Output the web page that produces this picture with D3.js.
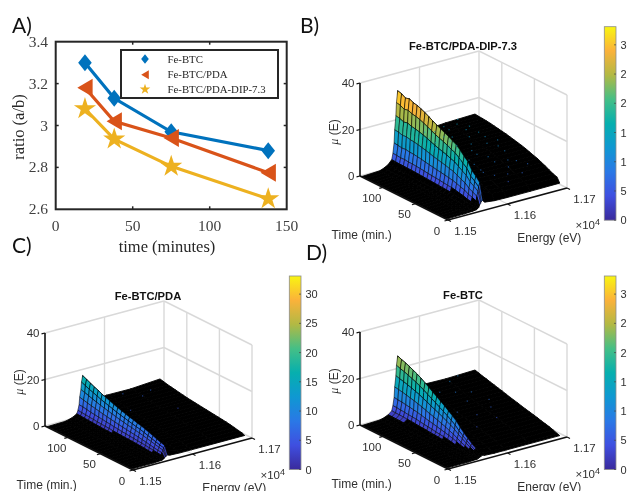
<!DOCTYPE html>
<html>
<head>
<meta charset="utf-8">
<script src="https://cdn.jsdelivr.net/npm/d3@7"></script>
<style>
    html, body { margin: 0; padding: 0; background: #fff; }
    svg { display: block; filter: blur(0.35px); }
</style>
</head>
<body>
<svg id="chart" width="627" height="491"></svg>
<script>
// Panel A values
const ratioTimes = [19, 38, 75, 138];
const ratioFeBtc = [3.30, 3.13, 2.97, 2.88];
const ratioPda = [3.18, 3.02, 2.94, 2.775];
const ratioDip = [3.08, 2.935, 2.805, 2.65];
const ratioNames = ['Fe-BTC', 'Fe-BTC/PDA', 'Fe-BTC/PDA-DIP-7.3'];
const ratioXTicks = [0, 50, 100, 150];
const ratioYTicks = [2.6, 2.8, 3, 3.2, 3.4];

// Surface grid, shared by panels B, C, D
const surfaceTimes = [2, 6, 12, 18, 24, 30, 36, 42, 48, 54, 60, 66, 72, 78, 84, 90, 96, 102, 108, 114, 120, 126, 132];
const surfaceEnergies = [1.15, 1.153, 1.1537, 1.1544, 1.155, 1.1552, 1.1554, 1.1555, 1.1557, 1.1558, 1.156, 1.1564, 1.158, 1.16, 1.164, 1.169];
const peakColumn = 10;

// mu(E), one row per time
const muDip = [
    [.1,.3,.4,.5,.7,1,1.5,2.2,2.9,3.5,4,3,2.5,2.4,2.4,2.5],
    [.2,.4,.6,.9,1.4,2.2,3.6,5.5,7.5,9.4,11,7,5,4.8,4.6,4.5],
    [.2,.4,.6,1,1.6,2.6,4.3,6.5,8.8,11,13,8,5.6,5.3,5.2,5.1],
    [.2,.4,.7,1.1,1.8,2.9,4.8,7.3,9.9,12.3,14.5,8.5,6.3,6,6,5.9],
    [.2,.5,.8,1.3,2.1,3.5,5.8,8.8,11.9,14.9,17.5,10,7.5,7,6.9,6.8],
    [.2,.5,.8,1.4,2.3,3.8,6.3,9.5,12.9,16.2,19,11,8,7.8,7.6,7.5],
    [.2,.5,.9,1.5,2.5,4.2,6.9,10.4,14.1,17.7,20.8,12,9,8.6,8.4,8.3],
    [.2,.5,.9,1.6,2.7,4.5,7.4,11.2,15.2,19,22.3,13,9.6,9.1,8.9,8.8],
    [.2,.5,1,1.6,2.8,4.6,7.7,11.6,15.8,19.7,23.2,13.5,10,9.7,9.5,9.4],
    [.2,.5,1,1.7,2.9,4.8,8,12.1,16.5,20.6,24.2,14,10.6,10.2,10.1,10],
    [.2,.5,1,1.8,3,5,8.3,12.5,17,21.3,25,14.8,11,10.7,10.6,10.5],
    [.2,.6,1,1.8,3.1,5.2,8.5,12.9,17.5,21.9,25.8,15,11.4,11,11,10.9],
    [.2,.6,1.1,1.9,3.2,5.3,8.8,13.3,18.1,22.6,26.6,15.8,11.8,11.4,11.4,11.3],
    [.2,.6,1.1,1.9,3.3,5.5,9.1,13.8,18.7,23.4,27.5,16.4,12,11.8,11.8,11.7],
    [.2,.6,1.1,2,3.4,5.7,9.4,14.3,19.4,24.2,28.5,17,12.4,12.2,12.2,12.1],
    [.2,.6,1.2,2.1,3.5,5.9,9.7,14.7,20,25,29.4,17.5,12.7,12.5,12.5,12.4],
    [.2,.6,1.2,2.1,3.6,6,10,15.1,20.5,25.7,30.2,18,13,12.7,12.8,12.7],
    [.2,.6,1.2,2.2,3.7,6.2,10.2,15.4,20.9,26.2,30.8,18.3,13.2,13,13.1,13],
    [.2,.6,1.2,2.2,3.7,6.2,10.3,15.6,21.2,26.5,31.2,18.6,13.3,13.2,13.3,13.3],
    [.2,.6,1.3,2.2,3.8,6.4,10.6,16,21.8,27.2,32,19,13.5,13.4,13.5,13.5],
    [.2,.6,1.3,2.2,3.8,6.3,10.4,15.8,21.4,26.8,31.5,19,13.6,13.5,13.7,13.7],
    [.2,.6,1.3,2.3,3.9,6.5,10.7,16.3,22.1,27.6,32.5,19.2,13.6,13.6,13.8,13.8],
    [.2,.6,1.3,2.3,4,6.6,10.9,16.5,22.4,28,33,19.5,13,12.8,13.6,14]
];
const muPda = [
    [.1,.2,.2,.3,.4,.5,.8,1.1,1.4,1.7,2,1.7,1.5,1.5,1.5,1.5],
    [.1,.2,.3,.4,.7,1.1,1.8,2.8,3.7,4.7,5.5,3.2,2.2,2,2,2],
    [.1,.2,.3,.5,.8,1.2,2,3,4.1,5.1,6,3.5,2.5,2.3,2.3,2.3],
    [.1,.2,.3,.5,.8,1.3,2.2,3.3,4.5,5.6,6.6,3.9,2.9,2.7,2.7,2.7],
    [.1,.2,.3,.5,.9,1.4,2.4,3.6,4.9,6.1,7.2,4.2,3.2,3,3,3],
    [.1,.2,.3,.6,.9,1.6,2.6,3.9,5.3,6.6,7.8,4.6,3.5,3.3,3.3,3.3],
    [.1,.2,.3,.6,1,1.7,2.8,4.2,5.7,7.1,8.4,5,3.7,3.5,3.5,3.5],
    [.1,.2,.4,.6,1.1,1.8,2.9,4.5,6.1,7.6,8.9,5.3,3.9,3.7,3.7,3.7],
    [.1,.2,.4,.7,1.1,1.9,3.1,4.7,6.3,7.9,9.3,5.6,4.1,3.9,3.9,3.9],
    [.1,.3,.4,.7,1.2,2,3.2,4.9,6.7,8.3,9.8,5.9,4.3,4.1,4.1,4.1],
    [.1,.3,.4,.7,1.2,2,3.4,5.1,6.9,8.7,10.2,6.2,4.5,4.3,4.3,4.3],
    [.1,.3,.4,.7,1.3,2.1,3.5,5.4,7.3,9.1,10.7,6.4,4.7,4.5,4.5,4.5],
    [.1,.3,.4,.8,1.3,2.2,3.7,5.6,7.6,9.5,11.2,6.7,5,4.7,4.7,4.7],
    [.1,.3,.5,.8,1.4,2.3,3.9,5.9,8,9.9,11.7,7,5.2,4.9,4.9,4.9],
    [.1,.3,.5,.9,1.5,2.5,4.1,6.2,8.4,10.5,12.3,7.3,5.4,5.1,5.1,5.1],
    [.1,.3,.5,.9,1.5,2.6,4.3,6.5,8.8,11,12.9,7.6,5.6,5.3,5.3,5.3],
    [.1,.3,.5,.9,1.6,2.7,4.5,6.8,9.2,11.5,13.5,8,5.9,5.6,5.6,5.6],
    [.1,.3,.6,1,1.7,2.8,4.7,7.1,9.6,12,14.1,8.3,6.2,5.9,5.9,5.9],
    [.1,.3,.6,1,1.8,3,4.9,7.5,10.1,12.7,14.9,8.7,6.5,6.2,6.2,6.2],
    [.1,.3,.6,1.1,1.9,3.1,5.1,7.8,10.6,13.3,15.6,9,6.8,6.5,6.5,6.5],
    [.1,.3,.7,1.1,2,3.3,5.4,8.2,11.2,13.9,16.4,9.4,7,6.8,6.8,6.8],
    [.1,.3,.7,1.2,2.1,3.4,5.7,8.6,11.7,14.6,17.2,9.8,7.3,7.2,7.1,7.2],
    [.1,.3,.7,1.3,2.2,3.6,5.9,9,12.2,15.3,18,10,6,6.8,6.7,7.6]
];
const muBtc = [
    [.1,.2,.2,.3,.4,.5,.7,.9,1.1,1.3,1.5,1.2,1,1,1,1],
    [.1,.2,.3,.4,.5,.6,.8,1.1,1.4,1.7,2,1.6,1.4,1.4,1.4,1.4],
    [.1,.2,.3,.4,.5,.7,1.1,1.5,2.1,2.6,3,2.4,2.1,2,2,2],
    [.1,.2,.3,.4,.6,.9,1.4,2.1,2.9,3.6,4.2,3.2,2.7,2.6,2.6,2.6],
    [.1,.2,.3,.5,.7,1.1,1.9,2.8,3.8,4.8,5.6,3.8,3.2,3.1,3,3],
    [.1,.3,.4,.5,.8,1.4,2.3,3.5,4.8,6,7,4.5,3.6,3.5,3.4,3.4],
    [.1,.3,.4,.6,1,1.7,2.9,4.4,5.9,7.4,8.7,5.4,4.1,4,3.9,3.9],
    [.2,.3,.4,.7,1.3,2.1,3.5,5.3,7.2,9,10.6,6.2,4.6,4.4,4.3,4.3],
    [.2,.3,.5,.8,1.4,2.4,4,6,8.2,10.2,12,7,5,4.8,4.7,4.7],
    [.2,.3,.5,.9,1.6,2.7,4.4,6.7,9,11.3,13.3,7.6,5.4,5.2,5.1,5.1],
    [.2,.4,.6,1,1.8,2.9,4.8,7.3,9.9,12.4,14.6,8.2,5.8,5.6,5.5,5.5],
    [.2,.4,.6,1.1,1.9,3.1,5.2,7.9,10.7,13.3,15.7,8.9,6.3,6.1,6,6],
    [.2,.4,.7,1.2,2,3.4,5.6,8.5,11.5,14.4,16.9,9.5,6.7,6.5,6.4,6.4],
    [.2,.4,.7,1.3,2.2,3.6,5.9,9,12.2,15.3,18,10.2,7.1,6.9,6.8,6.8],
    [.2,.4,.8,1.3,2.3,3.8,6.3,9.6,13.1,16.3,19.2,11,7.6,7.4,7.3,7.3],
    [.2,.5,.8,1.4,2.4,4.1,6.7,10.2,13.8,17.3,20.3,11.6,8.1,7.9,7.8,7.8],
    [.2,.5,.9,1.5,2.6,4.3,7.1,10.7,14.6,18.2,21.4,12.2,8.5,8.3,8.2,8.2],
    [.2,.5,.9,1.6,2.7,4.5,7.4,11.2,15.2,19,22.4,12.9,9,8.8,8.7,8.7],
    [.2,.5,.9,1.6,2.8,4.6,7.7,11.6,15.8,19.7,23.2,13.4,9.4,9.2,9.1,9.1],
    [.2,.5,1,1.7,2.9,4.8,7.9,12,16.3,20.4,24,14,9.9,9.7,9.6,9.6],
    [.2,.5,1,1.7,3,4.9,8.2,12.4,16.8,21,24.7,14.4,10.3,10.1,10,10],
    [.2,.5,1,1.8,3,5.1,8.3,12.7,17.2,21.5,25.3,15,10.8,10.6,10.5,10.5],
    [.2,.5,1,1.8,3.1,5.2,8.6,13,17.7,22.1,26,15.5,11.3,10.8,10.6,11]
];

// Bright pixels seen on the black plateau: time, energy, mu
const specksDip = [[120,1.158,13.6],[108,1.161,13.3],[96,1.164,13],[126,1.163,13.8],[90,1.16,12.5],[84,1.163,12.2],[72,1.159,11.5],[78,1.165,12],[66,1.162,11],[60,1.16,10.7],[60,1.166,10.6],[54,1.158,10.4],[48,1.163,9.6],[42,1.16,9],[42,1.166,8.9],[36,1.164,8.4],[30,1.161,7.7],[24,1.165,6.9],[114,1.166,13.6],[102,1.159,13.1],[130,1.161,13.6],[132,1.166,14],[18,1.162,6],[90,1.166,12.5],[128,1.16,13.2],[124,1.165,13.8],[122,1.161,13.6],[118,1.163,13.6],[112,1.159,13.4],[110,1.165,13.4],[104,1.162,13.1],[100,1.166,13],[98,1.161,12.8],[94,1.158,12.6],[88,1.161,12.4],[82,1.16,12],[80,1.167,11.8],[74,1.162,11.5],[70,1.166,11.3],[64,1.159,10.9],[58,1.163,10.4],[52,1.16,10],[46,1.165,9.3],[38,1.16,8.5],[34,1.167,8],[28,1.163,7.2]];
const specksPda = [[126,1.162,7.1],[114,1.164,6.5],[96,1.16,5.6],[78,1.166,4.9],[120,1.166,6.8]];
const specksBtc = [[126,1.164,10.6],[114,1.161,9.7],[102,1.165,8.8],[96,1.159,8.3],[90,1.163,7.9],[78,1.16,6.9],[72,1.165,6.5],[66,1.162,6.1],[54,1.164,5.2],[48,1.16,4.8],[120,1.159,10.1],[108,1.163,9.2],[132,1.166,10.8],[84,1.166,7.4]];

const colorTicks = [0, 5, 10, 15, 20, 25, 30];
const muTicks = [0, 20, 40];
const timeTicks = [0, 50, 100];
const energyTicks = [1.15, 1.16, 1.17];
const parulaStops = ['#3A2A9C', '#3F4FE0', '#2A78E6', '#0F98D2', '#06AFAE', '#45BF86', '#B2B944', '#FBB23A', '#F9F511'];

const svg = d3.select('#chart');
const sans = '"Liberation Sans", Arial, sans-serif';
const serif = '"Liberation Serif", "Times New Roman", serif';
const muMax = 33.1;

// shared colour scale for surfaces and colorbars
const parula = d3.scaleLinear()
    .domain(parulaStops.map((c, i) => i / (parulaStops.length - 1) * muMax))
    .range(parulaStops)
    .interpolate(d3.interpolateRgb);

const grad = svg.append('defs').append('linearGradient')
    .attr('id', 'parulaBar').attr('x1', 0).attr('x2', 0).attr('y1', 1).attr('y2', 0);
parulaStops.forEach((c, i) => {
    grad.append('stop').attr('offset', i / (parulaStops.length - 1)).attr('stop-color', c);
});

// Panel labels
[['A)', 12, 33], ['B)', 300, 33], ['C)', 12, 253], ['D)', 306, 260]].forEach(l => {
    svg.append('text').attr('x', l[1]).attr('y', l[2])
        .style('font-family', 'Lato, "Open Sans", sans-serif')
        .style('font-size', '21px').style('fill', '#111').text(l[0]);
});

drawRatio();
drawSurface({ title: 'Fe-BTC/PDA-DIP-7.3', left: [360, 176], mu: muDip, specks: specksDip, barX: 604.3, barTop: 26.7, foot: 3.5 });
drawSurface({ title: 'Fe-BTC/PDA', left: [45, 426], mu: muPda, specks: specksPda, barX: 289.3, barTop: 276, foot: 1.8 });
drawSurface({ title: 'Fe-BTC', left: [360, 425], mu: muBtc, specks: specksBtc, barX: 604.3, barTop: 276, foot: 2.2 });

function drawRatio() {
    const box = { left: 55.7, right: 286.7, top: 41.7, bottom: 209.3 };
    const x = d3.scaleLinear().domain([0, 150]).range([box.left, box.right]);
    const y = d3.scaleLinear().domain([2.6, 3.4]).range([box.bottom, box.top]);
    const frameColor = '#262626';
    const g = svg.append('g');

    g.append('rect')
        .attr('x', box.left).attr('y', box.top)
        .attr('width', box.right - box.left).attr('height', box.bottom - box.top)
        .attr('fill', 'none').attr('stroke', frameColor).attr('stroke-width', 2);

    // inward ticks on all four sides
    ratioXTicks.slice(1, -1).forEach(t => {
        [[box.bottom, -3], [box.top, 3]].forEach(s => {
            g.append('line').attr('x1', x(t)).attr('x2', x(t)).attr('y1', s[0]).attr('y2', s[0] + s[1])
                .attr('stroke', frameColor).attr('stroke-width', 1.5);
        });
    });
    ratioYTicks.slice(1, -1).forEach(t => {
        [[box.left, 3], [box.right, -3]].forEach(s => {
            g.append('line').attr('y1', y(t)).attr('y2', y(t)).attr('x1', s[0]).attr('x2', s[0] + s[1])
                .attr('stroke', frameColor).attr('stroke-width', 1.5);
        });
    });

    ratioXTicks.forEach(t => {
        g.append('text').attr('x', x(t)).attr('y', 231).attr('text-anchor', 'middle')
            .style('font-family', serif).style('font-size', '15.5px').style('fill', '#404040').text(t);
    });
    ratioYTicks.forEach(t => {
        g.append('text').attr('x', 48).attr('y', y(t) + 5).attr('text-anchor', 'end')
            .style('font-family', serif).style('font-size', '15.5px').style('fill', '#404040').text(t);
    });

    g.append('text').attr('x', 167).attr('y', 252).attr('text-anchor', 'middle')
        .style('font-family', serif).style('font-size', '16.5px').style('fill', '#262626').text('time (minutes)');
    g.append('text').attr('transform', 'translate(24,127) rotate(-90)').attr('text-anchor', 'middle')
        .style('font-family', serif).style('font-size', '16.5px').style('fill', '#262626').text('ratio (a/b)');

    const diamond = s => `M0,${-s}L${s * 0.8},0L0,${s}L${-s * 0.8},0Z`;
    const triangle = s => `M${s * 0.85},${-s}L${-s * 0.85},0L${s * 0.85},${s}Z`;
    const star = s => d3.symbol(d3.symbolStar, s * s * 1.15)();
    const series = [
        { values: ratioFeBtc, color: '#0072BD', shape: diamond, size: 8.5, legend: 4.8 },
        { values: ratioPda, color: '#D95319', shape: triangle, size: 9, legend: 4.5 },
        { values: ratioDip, color: '#EDB120', shape: star, size: 11.5, legend: 5.5 }
    ];
    const line = d3.line().x((d, i) => x(ratioTimes[i])).y(d => y(d));

    series.forEach(s => {
        g.append('path').attr('d', line(s.values)).attr('fill', 'none')
            .attr('stroke', s.color).attr('stroke-width', 3.2);
        s.values.forEach((v, i) => {
            g.append('path').attr('d', s.shape(s.size))
                .attr('transform', `translate(${x(ratioTimes[i])},${y(v)})`).attr('fill', s.color);
        });
    });

    // legend
    const legend = g.append('g');
    legend.append('rect').attr('x', 121).attr('y', 50).attr('width', 157).attr('height', 48)
        .attr('fill', '#fff').attr('stroke', frameColor).attr('stroke-width', 2);
    const rows = [59, 74.7, 89.3];
    series.forEach((s, i) => {
        legend.append('path').attr('d', s.shape(s.legend))
            .attr('transform', `translate(145,${rows[i]})`).attr('fill', s.color);
        legend.append('text').attr('x', 167.5).attr('y', rows[i] + 3.5)
            .style('font-family', serif).style('font-size', '10.8px').style('fill', '#262626').text(ratioNames[i]);
    });
}

function drawSurface(p) {
    const [lx, ly] = p.left;
    const g = svg.append('g');
    const timePos = d3.scaleLinear().domain([135, 0]).range([0, 1]);
    const energyPos = d3.scaleLinear().domain([1.15, 1.17]).range([0, 1]);
    const muPos = d3.scaleLinear().domain([0, 40]).range([0, 93]);

    // oblique view of the box
    const project = (t, e, z) => {
        const a = timePos(t), b = energyPos(e);
        return [lx + a * 88 + b * 119, ly + a * 44 - b * 32 - muPos(z)];
    };
    const seg = (from, to, color, width) => {
        g.append('line').attr('x1', from[0]).attr('y1', from[1]).attr('x2', to[0]).attr('y2', to[1])
            .attr('stroke', color).attr('stroke-width', width);
    };
    const label = (pos, txt, size, anchor) => g.append('text')
        .attr('x', pos[0]).attr('y', pos[1]).attr('text-anchor', anchor || 'middle')
        .style('font-family', sans).style('font-size', size + 'px').style('fill', '#303030').text(txt);

    // back walls and floor grid
    const wall = '#d9d9d9';
    muTicks.forEach(z => {
        seg(project(135, 1.15, z), project(135, 1.17, z), wall, 1.4);
        seg(project(135, 1.17, z), project(0, 1.17, z), wall, 1.4);
    });
    seg(project(135, 1.16, 0), project(135, 1.16, 40), wall, 1.4);
    seg(project(135, 1.17, 0), project(135, 1.17, 40), wall, 1.4);
    [0, 50, 100].forEach(t => seg(project(t, 1.17, 0), project(t, 1.17, 40), wall, 1.4));
    [50, 100].forEach(t => seg(project(t, 1.15, 0), project(t, 1.17, 0), wall, 1.2));
    seg(project(0, 1.16, 0), project(135, 1.16, 0), wall, 1.2);

    // surface, painted from the far corner to the near one
    const cellLine = d3.line();
    for (let i = surfaceTimes.length - 2; i >= 0; i--) {
        for (let j = surfaceEnergies.length - 2; j >= 0; j--) {
            const corners = [[i, j], [i, j + 1], [i + 1, j + 1], [i + 1, j]];
            const zs = corners.map(c => p.mu[c[0]][c[1]]);
            const rise = (Math.abs(zs[1] - zs[0]) + Math.abs(zs[2] - zs[3])) / 2;
            // the mesh is so dense on flat parts that they read as black
            const wallCell = j < peakColumn && rise > 0.4 && d3.mean(zs) > p.foot;
            g.append('path')
                .attr('d', cellLine(corners.map((c, k) => project(surfaceTimes[c[0]], surfaceEnergies[c[1]], zs[k]))) + 'Z')
                .attr('fill', wallCell ? parula(d3.mean(zs)) : '#000')
                .attr('stroke', '#000').attr('stroke-width', wallCell ? 0.55 : 0.9);
        }
    }
    p.specks.forEach(s => {
        const c = project(s[0], s[1], s[2]);
        g.append('rect').attr('x', c[0]).attr('y', c[1]).attr('width', 1.2).attr('height', 1.2)
            .attr('fill', parula(s[2])).attr('opacity', 0.6);
    });

    // axes
    const axisColor = '#111';
    seg(project(135, 1.15, 0), project(135, 1.15, 40), axisColor, 1.6);
    seg(project(135, 1.15, 0), project(0, 1.15, 0), axisColor, 1.6);
    seg(project(0, 1.15, 0), project(0, 1.17, 0), axisColor, 1.6);

    muTicks.forEach(z => {
        const c = project(135, 1.15, z);
        seg(c, [c[0] - 3.5, c[1] + 0.8], axisColor, 1.2);
        label([c[0] - 5.5, c[1] + 4], z, 11.5, 'end');
    });
    timeTicks.forEach(t => {
        const c = project(t, 1.15, 0);
        seg(c, [c[0] - 3.5, c[1] + 1], axisColor, 1.2);
        label([c[0] - 11, c[1] + 14.5], t, 11.5);
    });
    energyTicks.forEach(e => {
        const c = project(0, e, 0);
        seg(c, [c[0] + 3, c[1] + 1.5], axisColor, 1.2);
        label([c[0] + 17.5, c[1] + 14.5], e, 11.5);
    });

    g.append('text').attr('x', lx + 103).attr('y', ly - 126.5).attr('text-anchor', 'middle')
        .style('font-family', sans).style('font-size', '11.2px').style('font-weight', 'bold')
        .style('fill', '#111').text(p.title);
    label([lx + 1.7, ly + 63], 'Time (min.)', 12);
    label([lx + 189.3, ly + 66], 'Energy (eV)', 12);

    const sci = label([lx + 215.5, ly + 53], '\u00d710', 11.5, 'start');
    sci.append('tspan').attr('dy', -4).style('font-size', '9px').text('4');

    const mu = g.append('text').attr('transform', `translate(${lx - 22},${ly - 44}) rotate(-90)`)
        .attr('text-anchor', 'middle').style('font-family', sans).style('font-size', '12px').style('fill', '#303030');
    mu.append('tspan').style('font-family', serif).style('font-style', 'italic').text('\u03bc');
    mu.append('tspan').text(' (E)');

    // colorbar
    const barH = 193.5;
    const barY = d3.scaleLinear().domain([0, muMax]).range([p.barTop + barH, p.barTop]);
    g.append('rect').attr('x', p.barX).attr('y', p.barTop).attr('width', 11.7).attr('height', barH)
        .attr('fill', 'url(#parulaBar)').attr('stroke', '#8c8c8c').attr('stroke-width', 0.8);
    colorTicks.forEach(v => {
        seg([p.barX + 9.7, barY(v)], [p.barX + 11.7, barY(v)], '#444', 0.7);
        label([p.barX + 16.2, barY(v) + 4], v, 11, 'start');
    });
}
</script>
</body>
</html>
